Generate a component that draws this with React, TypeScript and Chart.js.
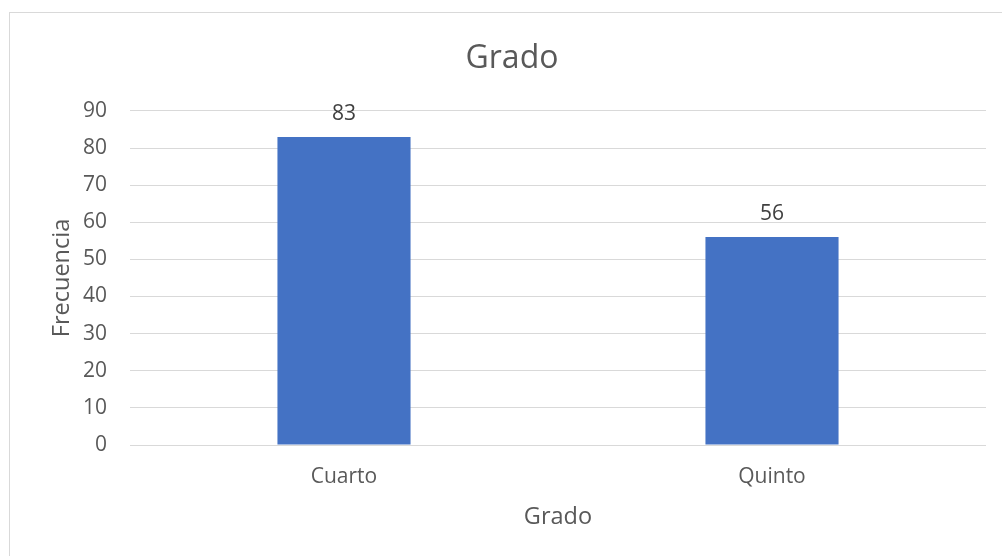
import React, { useEffect, useRef } from "react";
import { Chart, registerables } from "chart.js";

Chart.register(...registerables);

const categories = ["Cuarto", "Quinto"];
const frecuencia = [83, 56];
const yTicks = [0, 10, 20, 30, 40, 50, 60, 70, 80, 90];

const FONT = "'Open Sans', 'Noto Sans', sans-serif";
const TEXT = "#595959";

const dataLabels = {
  id: "dataLabels",
  afterDatasetsDraw(chart: any) {
    const ctx = chart.ctx;
    const meta = chart.getDatasetMeta(0);
    ctx.save();
    ctx.font = `21px ${FONT}`;
    ctx.fillStyle = "#404040";
    ctx.textAlign = "center";
    ctx.textBaseline = "middle";
    meta.data.forEach((bar: any, i: number) => {
      ctx.fillText(String(chart.data.datasets[0].data[i]), bar.x, bar.y - 23);
    });
    ctx.restore();
  },
};

const frame = {
  id: "frame",
  beforeDraw(chart: any) {
    const ctx = chart.ctx;
    ctx.save();
    ctx.fillStyle = "#ffffff";
    ctx.fillRect(0, 0, chart.width, chart.height);
    ctx.strokeStyle = "#D9D9D9";
    ctx.lineWidth = 1;
    ctx.strokeRect(9.5, 12.5, chart.width + 10, chart.height + 10);
    ctx.restore();
  },
};

export default function App() {
  const ref = useRef<HTMLCanvasElement | null>(null);
  useEffect(() => {
    if (!ref.current) return;
    const chart = new Chart(ref.current, {
      type: "bar",
      data: {
        labels: categories,
        datasets: [
          {
            label: "Frecuencia",
            data: frecuencia,
            backgroundColor: "#4472C4",
            categoryPercentage: 1,
            barPercentage: 0.311,
          },
        ],
      },
      options: {
        responsive: false,
        animation: false,
        devicePixelRatio: 1,
        layout: { padding: { left: 38, right: 16, top: 0, bottom: 0 } },
        plugins: {
          legend: { display: false },
          tooltip: { enabled: false },
          title: {
            display: true,
            text: "Grado",
            color: TEXT,
            font: { family: FONT, size: 32, weight: "normal" },
            padding: { top: 39.5, bottom: 33 },
          },
        },
        scales: {
          x: {
            grid: { display: false, drawTicks: false },
            border: { display: false },
            ticks: {
              color: TEXT,
              font: { family: FONT, size: 21 },
              padding: 19,
            },
            title: {
              display: true,
              text: "Grado",
              color: TEXT,
              font: { family: FONT, size: 23.5 },
              padding: { top: 0, bottom: 25 },
            },
            afterFit(scale: any) {
              scale.height = 111;
            },
          },
          y: {
            min: 0,
            max: 90,
            afterBuildTicks(scale: any) {
              scale.ticks = yTicks.map((v) => ({ value: v }));
            },
            grid: { color: "#D9D9D9", lineWidth: 1, drawTicks: false },
            border: { display: false },
            ticks: {
              color: TEXT,
              font: { family: FONT, size: 21 },
              padding: 23,
            },
            title: {
              display: true,
              text: "Frecuencia",
              color: TEXT,
              font: { family: FONT, size: 23.5 },
              padding: { top: 10, bottom: 0 },
            },
            afterFit(scale: any) {
              scale.width = 92;
            },
          },
        },
      },
      plugins: [frame, dataLabels],
    });
    return () => chart.destroy();
  }, []);
  return (
    <div style={{ position: "absolute", left: 0, top: 0, width: 1002, height: 556 }}>
      <canvas ref={ref} width={1002} height={556} style={{ display: "block" }} />
    </div>
  );
}
